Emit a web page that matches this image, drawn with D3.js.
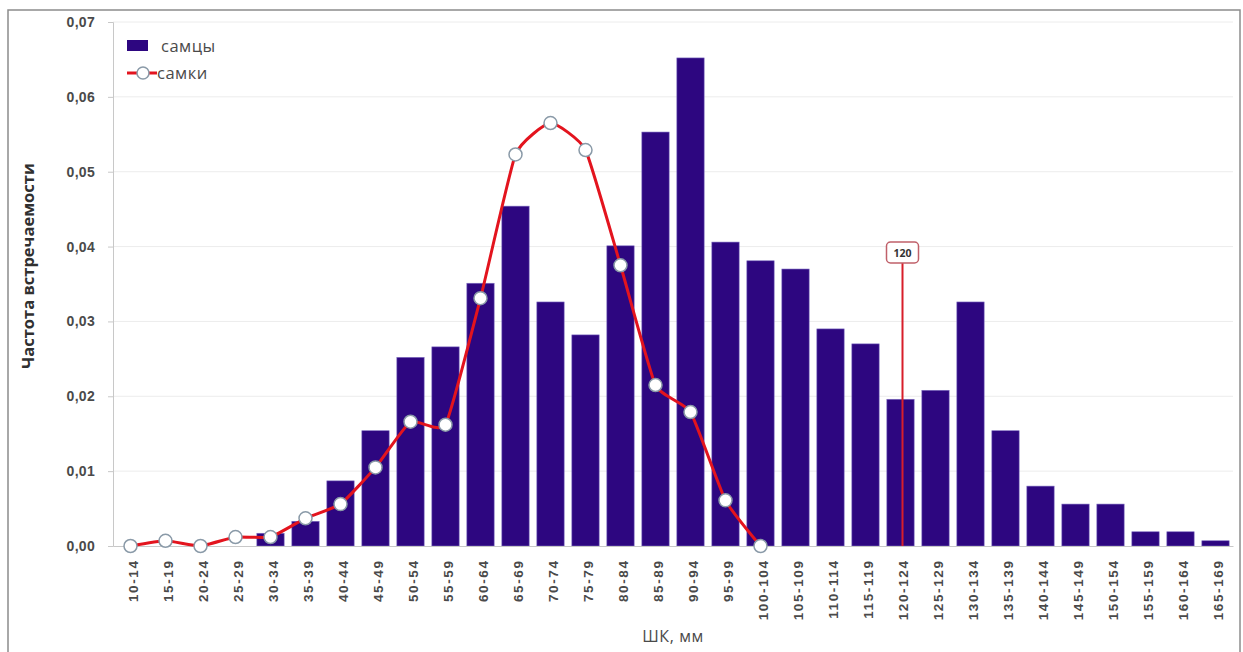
<!DOCTYPE html>
<html><head><meta charset="utf-8">
<script src="https://cdn.jsdelivr.net/npm/d3@7"></script>
<style>body{margin:0;background:#fff}svg{display:block;font-family:"Open Sans","Noto Sans",sans-serif}</style>
</head><body>
<svg id="c" width="1243" height="652"></svg>
<script>
const categories = ["10-14","15-19","20-24","25-29","30-34","35-39","40-44","45-49","50-54","55-59","60-64","65-69","70-74","75-79","80-84","85-89","90-94","95-99","100-104","105-109","110-114","115-119","120-124","125-129","130-134","135-139","140-144","145-149","150-154","155-159","160-164","165-169"];
const males = [0,0,0,0,0.0017,0.0033,0.0087,0.0154,0.0252,0.0266,0.0351,0.0454,0.0326,0.0282,0.0401,0.0553,0.0652,0.0406,0.0381,0.0370,0.0290,0.0270,0.0196,0.0208,0.0326,0.0154,0.0080,0.0056,0.0056,0.0019,0.0019,0.0007];
const females = [0,0.0007,0,0.0012,0.0012,0.0037,0.0056,0.0105,0.0166,0.0162,0.0331,0.0523,0.0565,0.0529,0.0375,0.0215,0.0179,0.0061,0];
const yTicks = [0,0.01,0.02,0.03,0.04,0.05,0.06,0.07];
const markerCategory = "120-124";
const markerLabel = "120";
const seriesNames = ["самцы","самки"];

const svg = d3.select("#c");
const m = {l:113, r:1233, t:22, b:546};
const x = d3.scaleBand().domain(categories).range([m.l, m.r]).paddingInner(0.22).paddingOuter(0.11);
const y = d3.scaleLinear().domain([0,0.07]).range([m.b, m.t]);
const fmt = v => v.toFixed(2).replace(".", ",");

// outer frame
svg.append("rect").attr("x",8).attr("y",10).attr("width",1232).attr("height",660)
  .attr("fill","none").attr("stroke","#8c8c8c").attr("stroke-width",1.5);

// gridlines
svg.append("g").selectAll("line").data(yTicks.slice(1)).join("line")
  .attr("x1",m.l).attr("x2",m.r).attr("y1",d=>y(d)).attr("y2",d=>y(d))
  .attr("stroke","#ececec").attr("stroke-width",1);

// y axis
const ya = svg.append("g").attr("transform",`translate(${m.l},0)`)
  .call(d3.axisLeft(y).tickValues(yTicks).tickFormat(fmt).tickSize(5).tickPadding(13));
ya.select(".domain").attr("stroke","#c8c8c8");
ya.selectAll(".tick line").attr("stroke","#c8c8c8");
ya.selectAll("text").attr("font-size",14).attr("font-weight",600).attr("fill","#4a4a4a").attr("letter-spacing","0.3px");

// bars
svg.append("g").selectAll("rect").data(males).join("rect")
  .attr("x",(d,i)=>x(categories[i])).attr("width",x.bandwidth())
  .attr("y",d=>y(d)).attr("height",d=>y(0)-y(d))
  .attr("fill","#2d0680").attr("stroke","#7d6cc0").attr("stroke-width",0.6);

// x axis
const xa = svg.append("g").attr("transform",`translate(0,${m.b})`)
  .call(d3.axisBottom(x).tickSize(0).tickPadding(14));
xa.select(".domain").attr("stroke","#c8c8c8");
xa.selectAll("text").attr("font-size",13.5).attr("font-weight",600).attr("fill","#4a4a4a")
  .attr("letter-spacing","1.6px")
  .attr("transform","rotate(-90)").attr("text-anchor","end").attr("dx","-1.0em").attr("dy","-0.45em");

// marker line
const mx = x(markerCategory)+x.bandwidth()/2+2;
svg.append("line").attr("x1",mx).attr("x2",mx).attr("y1",263).attr("y2",m.b)
  .attr("stroke","#d81e2a").attr("stroke-width",2);
svg.append("rect").attr("x",mx-16).attr("y",242).attr("width",32).attr("height",21).attr("rx",4)
  .attr("fill","#fff").attr("stroke","#c0606a").attr("stroke-width",1.5);
svg.append("text").attr("x",mx).attr("y",257).attr("text-anchor","middle")
  .attr("font-size",10.5).attr("font-weight","bold").attr("fill","#333").text(markerLabel);

// females line
const cx = i => x(categories[i]) + x.bandwidth()/2;
const line = d3.line().x((d,i)=>cx(i)).y(d=>y(d)).curve(d3.curveCardinal.tension(0.55));
svg.append("path").datum(females).attr("d",line).attr("fill","none")
  .attr("stroke","#e3141e").attr("stroke-width",3);
svg.append("g").selectAll("circle").data(females).join("circle")
  .attr("cx",(d,i)=>cx(i)).attr("cy",d=>y(d)).attr("r",6.5)
  .attr("fill","#fff").attr("stroke","#8a9aa8").attr("stroke-width",1.5);

// axis titles
svg.append("text").attr("transform","translate(34,266) rotate(-90)").attr("text-anchor","middle")
  .attr("font-size",16.5).attr("font-weight","bold").attr("fill","#303030").text("Частота встречаемости");
svg.append("text").attr("x",673).attr("y",642).attr("text-anchor","middle")
  .attr("font-size",16).attr("fill","#4a4a4a").attr("letter-spacing","0.6px").text("ШК, мм");

// legend
svg.append("rect").attr("x",127).attr("y",40).attr("width",21).attr("height",11).attr("fill","#2d0680");
svg.append("text").attr("x",161).attr("y",52).attr("font-size",16.5).attr("fill","#4a4a4a").attr("letter-spacing","0.5px").text(seriesNames[0]);
svg.append("line").attr("x1",127).attr("x2",157).attr("y1",73).attr("y2",73).attr("stroke","#e3141e").attr("stroke-width",3);
svg.append("circle").attr("cx",143).attr("cy",73).attr("r",6).attr("fill","#fff").attr("stroke","#8a9aa8").attr("stroke-width",1.5);
svg.append("text").attr("x",157).attr("y",79).attr("font-size",16.5).attr("fill","#4a4a4a").attr("letter-spacing","0.5px").text(seriesNames[1]);
</script>
</body></html>
